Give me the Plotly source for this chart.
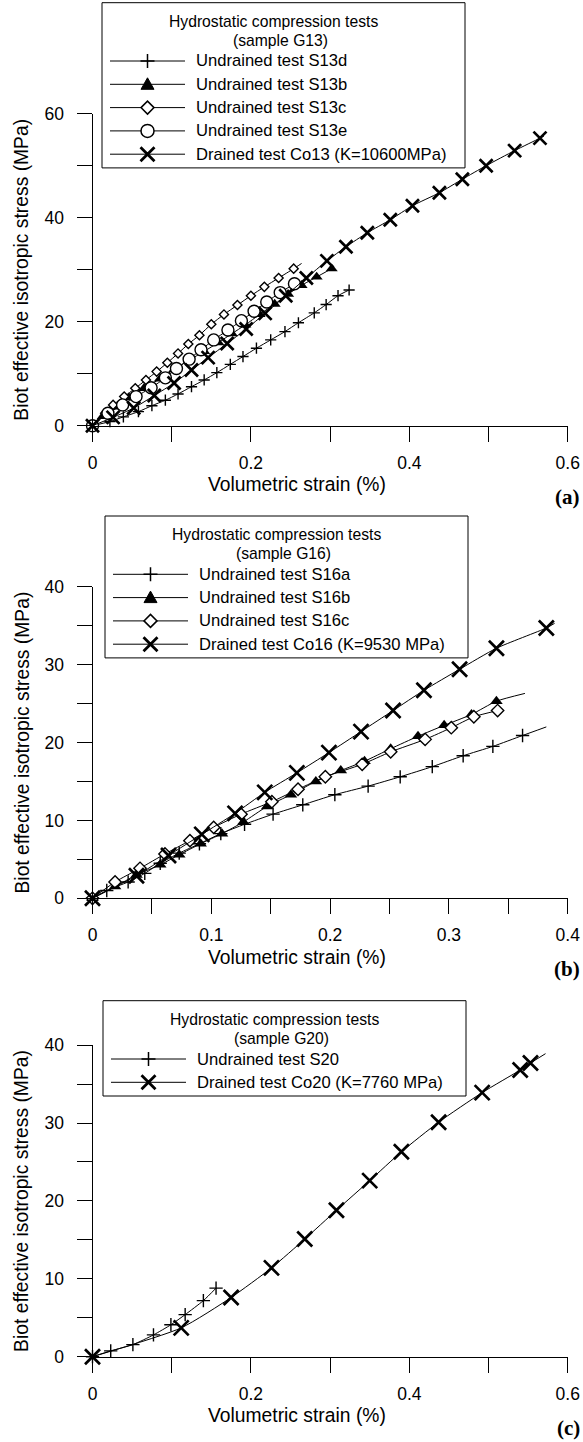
import plotly.graph_objects as go

W, H = 583, 1442

# ---------------- Panel (a): sample G13 ----------------
s13d_x = [0, 0.022, 0.039, 0.058, 0.075, 0.092, 0.108, 0.125, 0.141, 0.157, 0.174, 0.190, 0.207, 0.225, 0.243, 0.260, 0.280, 0.295, 0.310, 0.324]
s13d_y = [0, 0.8, 1.7, 2.7, 3.85, 4.9, 6.1, 7.5, 8.8, 10.2, 11.8, 13.3, 14.9, 16.5, 18.1, 19.8, 21.7, 23.3, 25.0, 26.1]
s13d_tail = ([], [])

s13b_x = [0, 0.013, 0.026, 0.046, 0.065, 0.085, 0.103, 0.122, 0.141, 0.159, 0.176, 0.193, 0.211, 0.230, 0.247, 0.264, 0.283, 0.302]
s13b_y = [0, 1.8, 3.6, 5.4, 7.2, 9.0, 10.8, 12.6, 14.3, 16.0, 17.7, 19.4, 21.4, 23.4, 25.3, 27.0, 28.6, 30.2]
s13b_tail = ([], [])

s13c_x = [0, 0.016, 0.026, 0.040, 0.054, 0.0675, 0.081, 0.0945, 0.108, 0.121, 0.135, 0.150, 0.166, 0.183, 0.200, 0.217, 0.235, 0.254]
s13c_y = [0, 2.4, 4.0, 5.6, 7.2, 8.8, 10.4, 12.1, 13.9, 15.7, 17.4, 19.5, 21.4, 23.2, 25.0, 26.7, 28.4, 30.2]
s13c_tail = ([0.264], [31.2])

s13e_x = [0, 0.0195, 0.038, 0.055, 0.074, 0.092, 0.106, 0.122, 0.137, 0.153, 0.171, 0.188, 0.204, 0.220, 0.237, 0.255]
s13e_y = [0, 2.4, 4.0, 5.6, 7.3, 9.2, 11.0, 12.8, 14.6, 16.5, 18.4, 20.2, 22.0, 23.8, 25.6, 27.3]
s13e_tail = ([], [])

co13_x = [0, 0.026, 0.052, 0.078, 0.103, 0.125, 0.146, 0.170, 0.194, 0.218, 0.244, 0.270, 0.296, 0.320, 0.347, 0.376, 0.404, 0.438, 0.467, 0.497, 0.533, 0.565]
co13_y = [0, 1.6, 3.4, 5.8, 8.2, 10.7, 13.1, 15.8, 18.6, 21.6, 25.0, 28.4, 31.7, 34.4, 37.1, 39.6, 42.3, 44.8, 47.4, 50.0, 52.9, 55.3]
co13_tail = ([0.57], [55.7])

# ---------------- Panel (b): sample G16 ----------------
s16a_x = [0, 0.012, 0.030, 0.044, 0.057, 0.073, 0.090, 0.108, 0.128, 0.152, 0.177, 0.204, 0.232, 0.259, 0.286, 0.312, 0.337, 0.362]
s16a_y = [0, 1.0, 2.1, 3.2, 4.5, 5.8, 7.0, 8.3, 9.5, 10.8, 12.0, 13.3, 14.4, 15.6, 16.9, 18.3, 19.5, 20.9]
s16a_tail = ([0.382], [22.0])

s16b_x = [0, 0.019, 0.037, 0.057, 0.073, 0.091, 0.109, 0.127, 0.147, 0.167, 0.188, 0.209, 0.229, 0.251, 0.274, 0.296, 0.319, 0.340]
s16b_y = [0, 1.5, 3.0, 4.3, 5.6, 7.0, 8.3, 9.8, 11.8, 13.3, 15.0, 16.4, 17.6, 19.2, 20.8, 22.2, 23.6, 25.3]
s16b_tail = ([0.364], [26.3])

s16c_x = [0, 0.019, 0.040, 0.061, 0.082, 0.102, 0.125, 0.151, 0.173, 0.196, 0.227, 0.251, 0.280, 0.302, 0.321, 0.341]
s16c_y = [0, 2.1, 3.85, 5.7, 7.4, 9.1, 10.8, 12.4, 14.0, 15.6, 17.2, 18.8, 20.4, 21.9, 23.3, 24.1]
s16c_tail = ([], [])

co16_x = [0, 0.037, 0.064, 0.092, 0.120, 0.145, 0.172, 0.199, 0.226, 0.253, 0.279, 0.309, 0.340, 0.382]
co16_y = [0, 2.9, 5.5, 8.2, 10.9, 13.6, 16.1, 18.7, 21.4, 24.1, 26.7, 29.4, 32.1, 34.7]
co16_tail = ([0.389], [35.3])

# ---------------- Panel (c): sample G20 ----------------
s20_x = [0, 0.023, 0.051, 0.077, 0.099, 0.117, 0.140, 0.156]
s20_y = [0, 0.75, 1.55, 2.8, 4.1, 5.4, 7.2, 8.8]
s20_tail = ([], [])

co20_x = [0, 0.112, 0.175, 0.226, 0.268, 0.308, 0.350, 0.390, 0.437, 0.492, 0.540, 0.553]
co20_y = [0, 3.7, 7.6, 11.4, 15.1, 18.8, 22.6, 26.3, 30.1, 33.9, 36.8, 37.7]
co20_tail = ([0.572], [38.9])

# ---------------- Texts ----------------
x_title = "Volumetric strain (%)"
y_title = "Biot effective isotropic stress (MPa)"
legend_title = "Hydrostatic compression tests"
panel_labels = ["(a)", "(b)", "(c)"]
sample_labels = ["(sample G13)", "(sample G16)", "(sample G20)"]

# ---------------- Layout geometry (pixels) ----------------
X_LEFT, X_RIGHT = 92.5, 567.7
PANELS = [
    dict(top=113.7, bottom=425.7, xmax=0.6, xdtick=0.2, xminor=0.1, ymax=60, ydtick=20, yminor=10,
         leg_left=102, leg_top=2.7),
    dict(top=586.7, bottom=898.3, xmax=0.4, xdtick=0.1, xminor=0.05, ymax=40, ydtick=10, yminor=5,
         leg_left=105, leg_top=516),
    dict(top=1045.1, bottom=1356.7, xmax=0.6, xdtick=0.2, xminor=0.1, ymax=40, ydtick=10, yminor=5,
         leg_left=103, leg_top=1000.7),
]


def fx(p):
    return p / W


def fy(p):
    return 1 - p / H


FONT = "Liberation Sans, Arial, sans-serif"

STYLES = {
    "plus": dict(symbol="cross-thin", color="black", line=dict(width=1.4, color="black")),
    "tri": dict(symbol="triangle-up", color="black", line=dict(width=0, color="black")),
    "dia": dict(symbol="diamond", color="white", line=dict(width=1.4, color="black")),
    "circ": dict(symbol="circle", color="white", line=dict(width=1.4, color="black")),
    "x": dict(symbol="x-thin", color="black", line=dict(width=2.7, color="black")),
}

series = [
    (0, "Undrained test S13d", s13d_x, s13d_y, s13d_tail, "plus", 8),
    (0, "Undrained test S13b", s13b_x, s13b_y, s13b_tail, "tri", 10.5),
    (0, "Undrained test S13c", s13c_x, s13c_y, s13c_tail, "dia", 7),
    (0, "Undrained test S13e", s13e_x, s13e_y, s13e_tail, "circ", 12),
    (0, "Drained test Co13 (K=10600MPa)", co13_x, co13_y, co13_tail, "x", 13),
    (1, "Undrained test S16a", s16a_x, s16a_y, s16a_tail, "plus", 9.5),
    (1, "Undrained test S16b", s16b_x, s16b_y, s16b_tail, "tri", 11),
    (1, "Undrained test S16c", s16c_x, s16c_y, s16c_tail, "dia", 9.5),
    (1, "Drained test Co16 (K=9530 MPa)", co16_x, co16_y, co16_tail, "x", 15),
    (2, "Undrained test S20", s20_x, s20_y, s20_tail, "plus", 9.5),
    (2, "Drained test Co20 (K=7760 MPa)", co20_x, co20_y, co20_tail, "x", 15),
]

fig = go.Figure()

for (pi, name, xs, ys, tail, style, size) in series:
    xa = "x" if pi == 0 else f"x{pi + 1}"
    ya = "y" if pi == 0 else f"y{pi + 1}"
    fig.add_trace(go.Scatter(
        x=list(xs) + list(tail[0]), y=list(ys) + list(tail[1]),
        mode="lines", line=dict(color="black", width=1, shape="spline", smoothing=0.6),
        xaxis=xa, yaxis=ya, showlegend=False, hoverinfo="skip"))
    fig.add_trace(go.Scatter(
        x=xs, y=ys, mode="markers", name=name,
        marker=dict(size=size, **STYLES[style]),
        xaxis=xa, yaxis=ya, showlegend=False, cliponaxis=False))

layout = dict(
    width=W, height=H, template="none",
    margin=dict(l=0, r=0, t=0, b=0, pad=0),
    paper_bgcolor="white", plot_bgcolor="white",
    font=dict(family=FONT, color="black", size=17.5),
    showlegend=False,
)

annotations = []
shapes = []

GLYPH = {
    "plus": dict(type="path", path="M-7,0 H7 M0,-7 V7", line=dict(color="black", width=1.5)),
    "tri": dict(type="path", path="M-6.5,-5 L6.5,-5 L0,6.5 Z", fillcolor="black", line=dict(color="black", width=1)),
    "dia": dict(type="path", path="M0,-6.5 L6.5,0 L0,6.5 L-6.5,0 Z", fillcolor="white", line=dict(color="black", width=1.5)),
    "circ": dict(type="circle", x0=-6.5, x1=6.5, y0=-6.5, y1=6.5, fillcolor="white", line=dict(color="black", width=1.5)),
    "x": dict(type="path", path="M-7,-7 L7,7 M-7,7 L7,-7", line=dict(color="black", width=2.8)),
}

for pi, P in enumerate(PANELS):
    suf = "" if pi == 0 else str(pi + 1)
    layout["xaxis" + suf] = dict(
        domain=[fx(X_LEFT), fx(X_RIGHT)], anchor="y" + suf, range=[0, P["xmax"]],
        showline=True, linecolor="black", linewidth=1, mirror=False,
        showgrid=False, zeroline=False, automargin=False,
        ticks="outside", ticklen=15, tickwidth=1, tickcolor="black",
        tick0=0, dtick=P["xdtick"], ticklabelstandoff=6,
        tickfont=dict(family=FONT, size=17.5, color="black"),
        minor=dict(ticks="outside", ticklen=15, tickwidth=1, tickcolor="black", dtick=P["xminor"], tick0=0, showgrid=False),
    )
    layout["yaxis" + suf] = dict(
        domain=[fy(P["bottom"]), fy(P["top"])], anchor="x" + suf, range=[0, P["ymax"]],
        showline=True, linecolor="black", linewidth=1, mirror=False,
        showgrid=False, zeroline=False, automargin=False,
        ticks="outside", ticklen=15, tickwidth=1, tickcolor="black",
        tick0=0, dtick=P["ydtick"], ticklabelstandoff=9,
        tickfont=dict(family=FONT, size=17.5, color="black"),
        minor=dict(ticks="outside", ticklen=15, tickwidth=1, tickcolor="black", dtick=P["yminor"], tick0=0, showgrid=False),
    )
    annotations.append(dict(text=x_title, xref="paper", yref="paper",
                            x=fx((X_LEFT + X_RIGHT) / 2 - 33), y=fy(P["bottom"] + 59),
                            xanchor="center", yanchor="middle", showarrow=False,
                            font=dict(family=FONT, size=19.3, color="black")))
    annotations.append(dict(text=y_title, xref="paper", yref="paper", textangle=-90,
                            x=fx(22), y=fy((P["top"] + P["bottom"]) / 2),
                            xanchor="center", yanchor="middle", showarrow=False,
                            font=dict(family=FONT, size=19.3, color="black")))
    annotations.append(dict(text="<b>" + panel_labels[pi] + "</b>", xref="paper", yref="paper",
                            x=fx(582), y=fy(P["bottom"] + 71),
                            xanchor="right", yanchor="middle", showarrow=False,
                            font=dict(family="Liberation Serif, Times New Roman, serif", size=21, color="black")))

    L, T = P["leg_left"], P["leg_top"]
    entries = [(s[1], s[5]) for s in series if s[0] == pi]
    ent_y = [T + 58.3 + 23.3 * i for i in range(len(entries))]
    bottom = ent_y[-1] + 13.7
    shapes.append(dict(type="rect", xref="paper", yref="paper",
                       x0=fx(L), x1=fx(L + 363), y0=fy(bottom), y1=fy(T),
                       line=dict(color="black", width=1), fillcolor="white", layer="above"))
    annotations.append(dict(text=legend_title, xref="paper", yref="paper",
                            x=fx(L + 171), y=fy(T + 18.5), xanchor="center", yanchor="middle",
                            showarrow=False, font=dict(family=FONT, size=15.7, color="black")))
    annotations.append(dict(text=sample_labels[pi], xref="paper", yref="paper",
                            x=fx(L + 178), y=fy(T + 37.5), xanchor="center", yanchor="middle",
                            showarrow=False, font=dict(family=FONT, size=15.7, color="black")))
    for (label, style), ey in zip(entries, ent_y):
        shapes.append(dict(type="line", xref="paper", yref="paper",
                           x0=fx(L + 8), x1=fx(L + 83), y0=fy(ey), y1=fy(ey),
                           line=dict(color="black", width=1), layer="above"))
        g = dict(GLYPH[style])
        g.update(xref="paper", yref="paper", xsizemode="pixel", ysizemode="pixel",
                 xanchor=fx(L + 45.5), yanchor=fy(ey), layer="above")
        shapes.append(g)
        annotations.append(dict(text=label, xref="paper", yref="paper",
                                x=fx(L + 92), y=fy(ey), xanchor="left", yanchor="middle",
                                showarrow=False, font=dict(family=FONT, size=16.6, color="black")))

layout["annotations"] = annotations
layout["shapes"] = shapes
fig.update_layout(**layout)

fig.write_html("out.html")
